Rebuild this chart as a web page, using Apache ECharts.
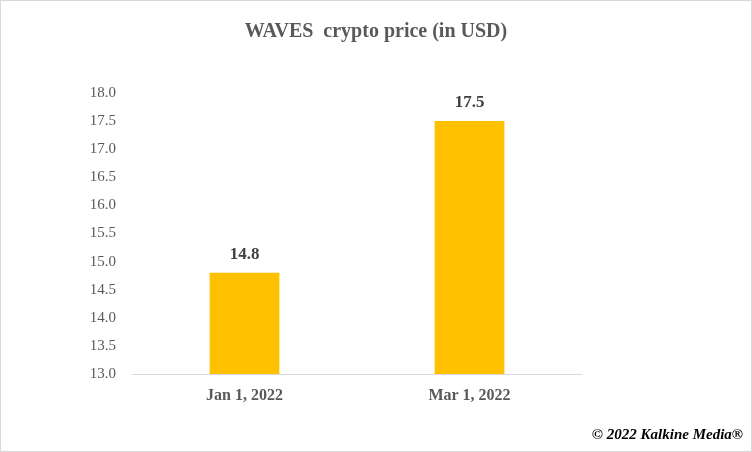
<!DOCTYPE html><html><head><meta charset="utf-8">
<script src="https://cdn.jsdelivr.net/npm/echarts@6/dist/echarts.min.js"></script>
<style>html,body{margin:0;padding:0;background:#fff}#c{width:752px;height:452px;box-sizing:border-box;border:1px solid #d9d9d9}</style>
</head><body><div id="c"></div><script>
const categories=["Jan 1, 2022","Mar 1, 2022"];
const prices=[14.8,17.5];
const chart=echarts.init(document.getElementById('c'));
const F='"Liberation Serif","Times New Roman",serif';
chart.setOption({
 animation:false,
 title:{text:'WAVES  crypto price (in USD)',left:'center',top:16,textStyle:{fontFamily:F,fontSize:20,fontWeight:'bold',color:'#595959'}},
 graphic:[{type:'text',right:8,bottom:8,style:{text:'© 2022 Kalkine Media®',font:'italic bold 15px '+F,fill:'#000'}}],
 grid:{left:131,right:169,top:92,bottom:77},
 xAxis:{type:'category',data:categories,axisTick:{show:false},axisLine:{lineStyle:{color:'#d9d9d9'}},
  axisLabel:{fontFamily:F,fontSize:16,fontWeight:'bold',color:'#595959',margin:14}},
 yAxis:{type:'value',min:13,max:18,interval:0.5,splitLine:{show:false},axisLine:{show:false},axisTick:{show:false},
  axisLabel:{fontFamily:F,fontSize:15,color:'#595959',margin:16,formatter:v=>v.toFixed(1)}},
 series:[{type:'bar',data:prices,barWidth:'31%',itemStyle:{color:'#ffc000'},
  label:{show:true,position:'top',distance:10,fontFamily:F,fontSize:17,fontWeight:'bold',color:'#404040',formatter:p=>p.value.toFixed(1)}}]
});
</script></body></html>
